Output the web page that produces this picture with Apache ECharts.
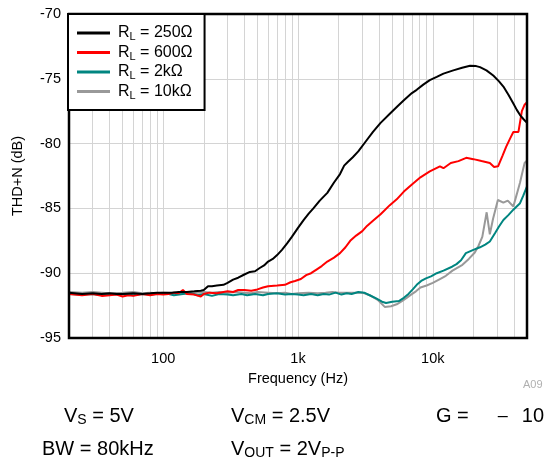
<!DOCTYPE html>
<html>
<head>
<meta charset="utf-8">
<script src="https://cdn.jsdelivr.net/npm/echarts@6/dist/echarts.min.js"></script>
<style>
html,body{margin:0;padding:0;background:#fff;}
#c{width:547px;height:466px;}
</style>
</head>
<body>
<div id="c"></div>
<script>
// ---- data ----
const loadLabels = ['250Ω', '600Ω', '2kΩ', '10kΩ'];
const seriesColors = ['#000000', '#ff0000', '#008580', '#999999'];

const freq250 = [20,25,30,35,40,45,50,60,70,80,90,100,115,130,150,170,190,200,215,230,250,280,300,330,360,400,440,480,520,560,600,650,700,760,830,900,1000,1100,1200,1300,1450,1650,1850,2050,2200,2350,2550,2800,3200,3600,4100,4800,5500,6100,7000,7600,8500,9500,10700,12000,14200,16500,18900,21000,22400,25000,28100,31000,33400,36500,39600,42000,44400,47000,50000];
const thd250 = [-91.5,-91.6,-91.55,-91.6,-91.55,-91.6,-91.6,-91.55,-91.6,-91.55,-91.5,-91.5,-91.5,-91.45,-91.45,-91.4,-91.35,-91.3,-91.0,-91.0,-90.95,-90.9,-90.75,-90.5,-90.35,-90.1,-89.9,-89.85,-89.6,-89.4,-89.1,-88.9,-88.6,-88.2,-87.7,-87.2,-86.5,-85.9,-85.4,-85.0,-84.4,-83.8,-83.0,-82.35,-81.7,-81.4,-81.05,-80.6,-79.8,-79.1,-78.4,-77.7,-77.1,-76.65,-76.1,-75.85,-75.45,-75.1,-74.85,-74.6,-74.35,-74.15,-74.0,-74.02,-74.1,-74.35,-74.75,-75.2,-75.6,-76.25,-76.9,-77.4,-77.8,-78.1,-78.4];

const freq600 = [20,25,30,35,40,45,50,55,60,70,80,90,100,110,120,130,140,150,170,190,200,220,250,280,300,330,360,400,450,500,550,600,700,800,880,950,1050,1150,1250,1380,1500,1650,1850,2050,2250,2440,2700,3000,3250,3600,4100,4800,5400,6100,7000,8100,9500,11300,12000,13600,15500,17700,20000,23000,26500,28500,30500,33000,35000,37500,39600,43200,45800,48000,50000];
const thd600 = [-91.6,-91.7,-91.6,-91.75,-91.7,-91.65,-91.8,-91.7,-91.75,-91.6,-91.7,-91.6,-91.65,-91.6,-91.5,-91.55,-91.3,-91.6,-91.65,-91.8,-91.6,-91.5,-91.55,-91.45,-91.4,-91.45,-91.3,-91.3,-91.35,-91.25,-91.1,-91.0,-90.95,-90.9,-90.7,-90.6,-90.45,-90.15,-90.0,-89.7,-89.45,-89.1,-88.8,-88.45,-88.0,-87.5,-87.1,-86.75,-86.35,-85.95,-85.45,-84.75,-84.3,-83.7,-83.15,-82.6,-82.15,-81.75,-81.9,-81.5,-81.35,-81.1,-81.2,-81.35,-81.5,-81.8,-81.75,-80.9,-80.25,-79.6,-79.1,-79.1,-77.5,-77.0,-76.8];

const freq2k = [20,25,30,35,40,50,60,70,80,90,100,110,120,140,160,180,200,230,260,300,330,380,420,480,550,600,700,800,900,1000,1100,1250,1400,1550,1700,1900,2100,2300,2500,2800,3100,3400,3800,4200,4500,5000,5600,6100,6600,7100,7600,8200,8900,9700,10700,12000,13900,15000,16200,17600,20000,22400,24500,26500,29000,31000,33400,36500,39600,44400,47000,50000];
const thd2k = [-91.6,-91.65,-91.6,-91.7,-91.65,-91.6,-91.7,-91.6,-91.65,-91.6,-91.55,-91.6,-91.7,-91.6,-91.55,-91.7,-91.6,-91.75,-91.6,-91.65,-91.7,-91.6,-91.7,-91.6,-91.7,-91.6,-91.55,-91.65,-91.6,-91.65,-91.7,-91.6,-91.7,-91.6,-91.65,-91.5,-91.65,-91.55,-91.6,-91.45,-91.5,-91.7,-91.95,-92.2,-92.3,-92.2,-92.15,-91.9,-91.6,-91.25,-90.9,-90.6,-90.4,-90.25,-90.0,-89.8,-89.5,-89.3,-89.0,-88.45,-88.2,-88.0,-87.8,-87.55,-86.9,-86.4,-85.9,-85.5,-85.1,-84.6,-84.0,-83.3];

const freq10k = [20,25,30,35,40,50,60,70,80,90,100,120,140,160,180,200,230,260,300,350,400,450,500,600,700,800,900,1000,1200,1400,1600,1800,2000,2500,3000,3400,3900,4400,4900,5400,5900,6400,6900,7500,8100,9000,10000,11300,12500,14000,16600,18500,20500,21800,23300,25100,26500,28000,30400,33400,36000,39600,42000,44400,46000,48000,50000];
const thd10k = [-91.45,-91.5,-91.45,-91.5,-91.55,-91.5,-91.45,-91.55,-91.5,-91.55,-91.5,-91.55,-91.5,-91.55,-91.5,-91.45,-91.5,-91.45,-91.5,-91.45,-91.5,-91.55,-91.45,-91.5,-91.55,-91.5,-91.6,-91.55,-91.5,-91.55,-91.5,-91.45,-91.5,-91.5,-91.5,-91.7,-92.05,-92.6,-92.55,-92.4,-92.15,-91.9,-91.65,-91.4,-91.1,-90.95,-90.75,-90.45,-90.2,-89.8,-89.35,-88.9,-88.4,-87.9,-87.2,-85.3,-87.0,-85.8,-84.35,-84.55,-84.4,-84.85,-83.9,-83.0,-82.3,-81.5,-81.3];

const gridFreqs = [20,30,40,50,60,70,80,90,100,200,300,400,500,600,700,800,900,1000,2000,3000,4000,5000,6000,7000,8000,9000,10000,20000,30000,40000,50000];
const xTickLabels = {100: '100', 1000: '1k', 10000: '10k'};
const yMin = -95, yMax = -70, yStep = 5;

// ---- chart ----
const chart = echarts.init(document.getElementById('c'), null, {renderer: 'canvas'});
const FONT = 'Liberation Sans, Arial, sans-serif';
const freqSets = [freq250, freq600, freq2k, freq10k];
const valSets = [thd250, thd600, thd2k, thd10k];

const curveSeries = loadLabels.map((lab, i) => ({
  name: lab,
  type: 'line',
  data: freqSets[i].map((f, j) => [f, valSets[i][j]]),
  showSymbol: false,
  symbol: 'none',
  lineStyle: {color: seriesColors[i], width: 2},
  itemStyle: {color: seriesColors[i]},
  z: 10 - i,
  animation: false
}));

const gridSeries = {
  name: 'grid',
  type: 'line',
  data: [],
  z: 1,
  animation: false,
  markLine: {
    silent: true,
    symbol: 'none',
    animation: false,
    label: {show: false},
    lineStyle: {color: '#d4d4d4', width: 1, type: 'solid'},
    data: gridFreqs.map(f => ({xAxis: f}))
  }
};

const sub = {fontSize: 11, fontFamily: FONT, color: '#000', verticalAlign: 'bottom', lineHeight: 13};
const bsub = {fontSize: 14, fontFamily: FONT, color: '#000', verticalAlign: 'bottom', lineHeight: 16};
const bn = {fontSize: 20, fontFamily: FONT, color: '#000', lineHeight: 23};

chart.setOption({
  animation: false,
  backgroundColor: '#fff',
  grid: {left: 69, right: 20, top: 14, bottom: 128, show: true, borderColor: '#000', borderWidth: 2.5, backgroundColor: 'transparent', z: 20},
  legend: {
    data: loadLabels,
    orient: 'vertical',
    left: 68, top: 14,
    backgroundColor: '#fff',
    borderColor: '#000', borderWidth: 2, borderRadius: 0,
    padding: [11, 12, 9, 9],
    itemGap: 2,
    itemWidth: 33, itemHeight: 3,
    icon: 'rect',
    z: 30,
    formatter: name => '{f|R}{s|L}{n| = ' + name + '}',
    textStyle: {
      fontFamily: FONT, fontSize: 16, color: '#000',
      rich: {
        f: {fontSize: 16, fontFamily: FONT, color: '#000', lineHeight: 19, padding: [0, 0, 0, 3]},
        n: {fontSize: 16, fontFamily: FONT, color: '#000', lineHeight: 19},
        s: sub
      }
    }
  },
  xAxis: {
    type: 'log', logBase: 10, min: 20, max: 50000,
    name: 'Frequency (Hz)', nameLocation: 'middle', nameGap: 33,
    nameTextStyle: {fontFamily: FONT, fontSize: 14.5, color: '#000'},
    axisLine: {show: false},
    axisTick: {show: false},
    splitLine: {show: false},
    axisLabel: {
      fontFamily: FONT, fontSize: 14.5, color: '#000', margin: 13,
      showMinLabel: false, showMaxLabel: false,
      formatter: v => { const r = Math.round(v); return xTickLabels[r] || ''; }
    }
  },
  yAxis: {
    type: 'value', min: yMin, max: yMax, interval: yStep,
    name: 'THD+N (dB)', nameLocation: 'middle', nameGap: 44, nameRotate: 90,
    nameTextStyle: {fontFamily: FONT, fontSize: 14.5, color: '#000'},
    axisLine: {show: false},
    axisTick: {show: false},
    splitLine: {show: true, lineStyle: {color: '#d4d4d4', width: 1}},
    axisLabel: {fontFamily: FONT, fontSize: 14.5, color: '#000', margin: 8}
  },
  series: [gridSeries].concat(curveSeries),
  graphic: [
    {type: 'text', left: 523, top: 379, style: {text: 'A09', font: '11px ' + FONT, fill: '#b0b0b0'}},
    {type: 'text', left: 64, top: 406, style: {text: '{n|V}{s|S}{n| = 5V}', rich: {n: bn, s: bsub}}},
    {type: 'text', left: 231, top: 406, style: {text: '{n|V}{s|CM}{n| = 2.5V}', rich: {n: bn, s: bsub}}},
    {type: 'text', left: 436, top: 406, style: {text: '{n|G =}{m|\u2013}{n|10}', rich: {n: bn, s: bsub, m: {fontSize: 18, fontFamily: FONT, color: '#666', lineHeight: 23, padding: [0, 14, 0, 29]}}}},
    {type: 'text', left: 42, top: 439, style: {text: '{n|BW = 80kHz}', rich: {n: bn, s: bsub}}},
    {type: 'text', left: 231, top: 439, style: {text: '{n|V}{s|OUT}{n| = 2V}{s|P-P}', rich: {n: bn, s: bsub}}}
  ]
});
</script>
</body>
</html>
